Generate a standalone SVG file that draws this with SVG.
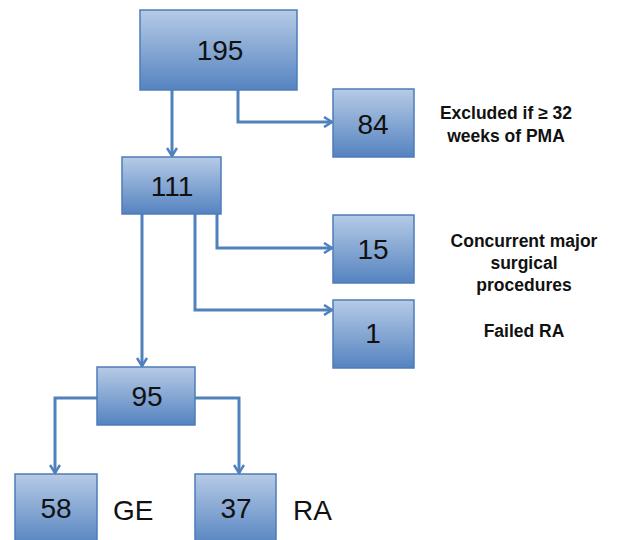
<svg xmlns="http://www.w3.org/2000/svg" width="617" height="540" viewBox="0 0 617 540">
<defs>
<linearGradient id="g" x1="0" y1="0" x2="0" y2="1">
<stop offset="0" stop-color="#b6cbe6"/>
<stop offset="1" stop-color="#5583c0"/>
</linearGradient>
<marker id="a" viewBox="0 0 12 12" refX="10" refY="6" markerWidth="12" markerHeight="12" markerUnits="userSpaceOnUse" orient="auto">
<path d="M2,1 L10,6 L2,11" fill="none" stroke="#4f81bd" stroke-width="2.5"/>
</marker>
</defs>
<style>
.box{fill:url(#g);stroke:#4d7cb9;stroke-width:1.5}
.num{font-family:"Liberation Sans",Arial,sans-serif;font-size:28px;fill:#111;text-anchor:middle}
.lab{font-family:"Liberation Sans",Arial,sans-serif;font-size:17.5px;font-weight:bold;fill:#111;text-anchor:middle}
.grp{font-family:"Liberation Sans",Arial,sans-serif;font-size:28px;fill:#111}
.c{fill:none;stroke:#4f81bd;stroke-width:3;marker-end:url(#a)}
</style>
<rect width="617" height="540" fill="#fff"/>
<g id="connectors">
<path class="c" d="M172,90 V156"/>
<path class="c" d="M238,90 V122 H332"/>
<path class="c" d="M217,214 V248 H332"/>
<path class="c" d="M195,214 V310 H332"/>
<path class="c" d="M142,214 V366"/>
<path class="c" d="M97,398 H55 V473"/>
<path class="c" d="M195,398 H239 V473"/>
</g>
<g id="n195"><rect class="box" x="140" y="10" width="157" height="80"/><text class="num" x="220" y="60">195</text></g>
<g id="n84"><rect class="box" x="333" y="89" width="81" height="68"/><text class="num" x="373" y="134">84</text></g>
<g id="l84"><text class="lab" x="506" y="119">Excluded if ≥ 32</text><text class="lab" x="506" y="142">weeks of PMA</text></g>
<g id="n111"><rect class="box" x="122" y="157" width="99" height="57"/><text class="num" x="172" y="196">111</text></g>
<g id="n15"><rect class="box" x="333" y="215" width="81" height="68"/><text class="num" x="373" y="259">15</text></g>
<g id="l15"><text class="lab" x="524" y="247">Concurrent major</text><text class="lab" x="524" y="269">surgical</text><text class="lab" x="524" y="291">procedures</text></g>
<g id="n1"><rect class="box" x="333" y="300" width="81" height="68"/><text class="num" x="373" y="343">1</text></g>
<g id="l1"><text class="lab" x="524" y="337">Failed RA</text></g>
<g id="n95"><rect class="box" x="97" y="367" width="98" height="58"/><text class="num" x="147" y="406">95</text></g>
<g id="n58"><rect class="box" x="15" y="474" width="82" height="72"/><text class="num" x="56" y="518">58</text><text class="grp" x="113" y="520">GE</text></g>
<g id="n37"><rect class="box" x="195" y="474" width="81" height="72"/><text class="num" x="236" y="518">37</text><text class="grp" x="293" y="520">RA</text></g>
</svg>
